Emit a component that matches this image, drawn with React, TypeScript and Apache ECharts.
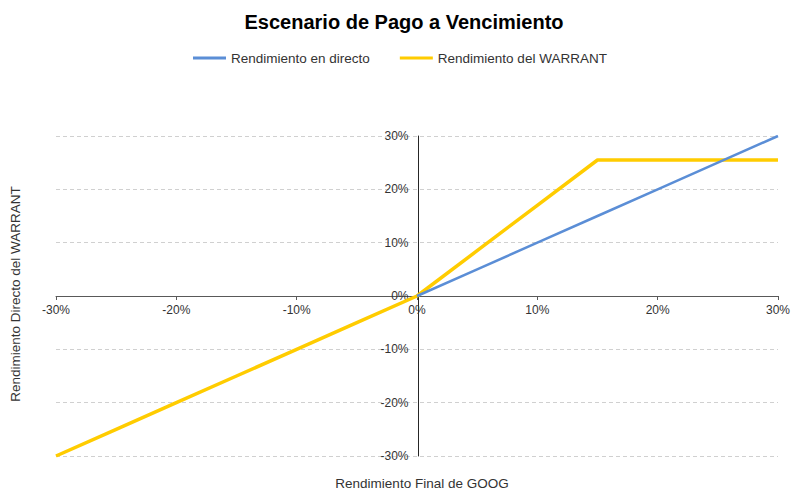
import React, { useEffect, useRef } from "react";
import * as echarts from "echarts";

const titleText = "Escenario de Pago a Vencimiento";
const seriesNames = ["Rendimiento en directo", "Rendimiento del WARRANT"];
const xAxisTitle = "Rendimiento Final de GOOG";
const yAxisTitle = "Rendimiento Directo del WARRANT";

// Rendimiento final de GOOG (%)
const googReturn = [-30, -25, -20, -15, -10, -5, 0, 5, 10, 15, 20, 25, 30];
// Rendimiento en directo (%), only drawn from 0 upward
const directReturn = [null, null, null, null, null, null, 0, 5, 10, 15, 20, 25, 30];
// Rendimiento del WARRANT (%)
const warrantReturn = [-30, -25, -20, -15, -10, -5, 0, 8.5, 17, 25.5, 25.5, 25.5, 25.5];

const FONT = "'Liberation Sans', Arial, sans-serif";
const W = 793;
const H = 489;
const GRID = { left: 56, right: 12, top: 136, bottom: 33 };

export default function App() {
  const ref = useRef<HTMLDivElement>(null);
  useEffect(() => {
    if (!ref.current) return;
    const chart = echarts.init(ref.current, null, { renderer: "svg" });
    const pair = (ys: (number | null)[]) => googReturn.map((x, i) => [x, ys[i]]);
    const gw = W - GRID.left - GRID.right;
    const gh = H - GRID.top - GRID.bottom;
    chart.setOption({
      animation: false,
      backgroundColor: "#fff",
      textStyle: { fontFamily: FONT },
      title: {
        text: titleText,
        left: 399,
        textAlign: "center",
        top: 7,
        textStyle: { fontFamily: FONT, fontSize: 20, fontWeight: "bold", color: "#000" },
      },
      legend: {
        top: 46,
        left: 188,
        icon: "rect",
        itemWidth: 33,
        itemHeight: 3,
        itemGap: 30,
        data: [seriesNames[0], seriesNames[1]],
        textStyle: { fontFamily: FONT, fontSize: 13.5, color: "#333" },
      },
      grid: { ...GRID, containLabel: false },
      xAxis: {
        type: "value",
        min: -30,
        max: 30,
        interval: 10,
        position: "bottom",
        offset: -gh / 2,
        axisLine: { onZero: false, lineStyle: { color: "#595959", width: 1 } },
        axisTick: { show: true, length: 4, lineStyle: { color: "#595959" } },
        axisLabel: { formatter: "{value}%", fontSize: 12, color: "#333", margin: 8, fontFamily: FONT },
        splitLine: { show: false },
      },
      yAxis: {
        type: "value",
        min: -30,
        max: 30,
        interval: 10,
        position: "left",
        offset: -gw / 2,
        axisLine: { show: true, onZero: false, lineStyle: { color: "#262626", width: 1 } },
        axisTick: { show: false },
        axisLabel: { formatter: "{value}%", fontSize: 12, color: "#333", margin: 10, fontFamily: FONT },
        splitLine: { show: true, lineStyle: { color: "#d0d0d0", type: [4, 3], width: 1 } },
      },
      graphic: [
        {
          type: "text",
          x: 422,
          y: 483,
          style: {
            text: xAxisTitle,
            font: `13.5px ${FONT}`,
            fill: "#333",
            align: "center",
            verticalAlign: "middle",
          },
        },
        {
          type: "text",
          x: 15,
          y: 294,
          rotation: Math.PI / 2,
          style: {
            text: yAxisTitle,
            font: `13.5px ${FONT}`,
            fill: "#333",
            align: "center",
            verticalAlign: "middle",
          },
        },
      ],
      series: [
        {
          name: seriesNames[1],
          type: "line",
          data: pair(warrantReturn),
          symbol: "none",
          lineStyle: { color: "#FFCC00", width: 3.5 },
          itemStyle: { color: "#FFCC00" },
          z: 2,
        },
        {
          name: seriesNames[0],
          type: "line",
          data: pair(directReturn),
          symbol: "none",
          connectNulls: false,
          lineStyle: { color: "#5B8ED6", width: 2.5 },
          itemStyle: { color: "#5B8ED6" },
          z: 3,
        },
      ],
    });
    return () => chart.dispose();
  }, []);
  return (
    <div
      ref={ref}
      style={{ position: "fixed", left: 0, top: 0, width: W, height: H }}
    />
  );
}
